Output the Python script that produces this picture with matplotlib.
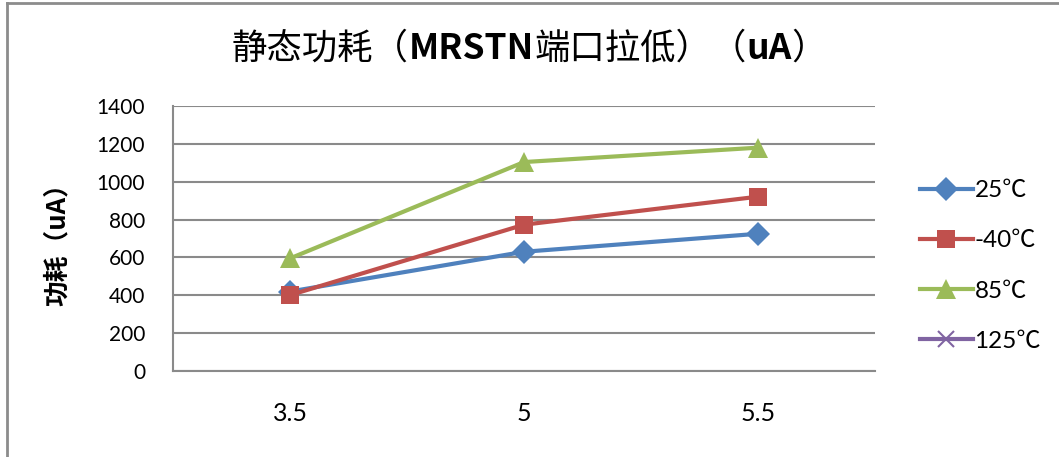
import matplotlib
matplotlib.use('Agg')
import matplotlib.pyplot as plt
from matplotlib.lines import Line2D
from matplotlib.offsetbox import TextArea, HPacker, AnchoredOffsetbox

plt.rcParams['font.family'] = ['Lato', 'Noto Sans CJK SC', 'DejaVu Sans']
cjk = ['Noto Sans CJK SC', 'DejaVu Sans']

# supply voltage categories and quiescent current per temperature
voltages = ['3.5', '5', '5.5']
i_25 = [420, 630, 725]
i_m40 = [401, 773, 921]
i_85 = [595, 1104, 1180]
i_125 = [None, None, None]

series = [
    ('25℃', i_25, '#4F81BD', 'D', 12),
    ('-40℃', i_m40, '#C0504D', 's', 13),
    ('85℃', i_85, '#9BBB59', '^', 14),
    ('125℃', i_125, '#8064A2', 'x', 11),
]

# title pieces: (text, bold)
title_parts = [('静态功耗（', False), ('MRSTN', True), ('端口拉低）（', False),
               ('uA', True), ('）', False)]

fig = plt.figure(figsize=(10.59, 4.57), dpi=100)
ax = fig.add_axes([0.1634, 0.1882, 0.6629, 0.5798])

x = list(range(len(voltages)))
for name, vals, col, mk, ms in series:
    y = [float('nan') if v is None else v for v in vals]
    ax.plot(x, y, color=col, lw=3, marker=mk, markersize=ms,
            markeredgewidth=1.5 if mk == 'x' else 0, label=name)

ax.set_xlim(-0.5, 2.5)
ax.set_ylim(0, 1400)
ax.set_yticks(range(0, 1401, 200))
ax.set_xticks(x)
ax.set_xticklabels(voltages)
ax.tick_params(axis='both', length=0)
ax.tick_params(axis='y', pad=20, labelsize=15)
ax.tick_params(axis='x', pad=22, labelsize=18)
ax.grid(axis='y', color='#8a8a8a', lw=1.5)
ax.set_axisbelow(True)
for side in ['top', 'right']:
    ax.spines[side].set_visible(False)
for side in ['left', 'bottom']:
    ax.spines[side].set_color('#8a8a8a')
    ax.spines[side].set_linewidth(1.5)

ax.set_ylabel('功耗（uA）', fontsize=18.5, fontweight='bold', family=cjk)
ax.yaxis.set_label_coords(-0.145, 0.5)

# title with bold latin runs
boxes = [TextArea(t, textprops=dict(fontsize=25.5, family=cjk,
                                    fontweight='bold' if b else 'normal'))
         for t, b in title_parts]
title = HPacker(children=boxes, align='baseline', pad=0, sep=0)
fig.add_artist(AnchoredOffsetbox(loc='center', child=title, frameon=False,
                                 pad=0, borderpad=0,
                                 bbox_to_anchor=(0.5, 0.893),
                                 bbox_transform=fig.transFigure))

ax.legend(loc='center left', bbox_to_anchor=(0.857, 0.418),
          bbox_transform=fig.transFigure, frameon=False, fontsize=17.5,
          handlelength=2.2, handletextpad=0.05, labelspacing=1.2,
          borderpad=0)

# outer chart frame
fig.add_artist(Line2D([7 / 1059, 7 / 1059], [0, 1 - 3 / 457],
                      transform=fig.transFigure, color='#8c8c8c', lw=2))
fig.add_artist(Line2D([7 / 1059, 1], [1 - 3 / 457, 1 - 3 / 457],
                      transform=fig.transFigure, color='#8c8c8c', lw=2))

fig.savefig('out.png', dpi=100)
